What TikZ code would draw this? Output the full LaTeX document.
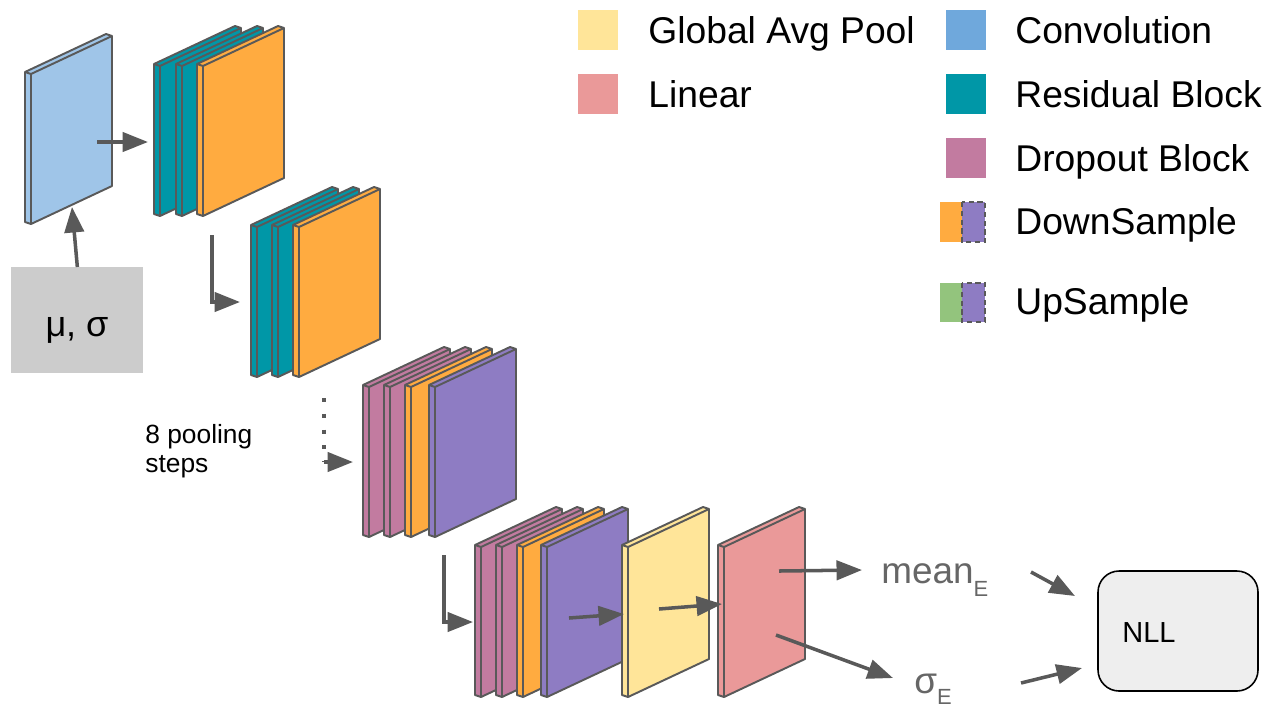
\documentclass[tikz,border=0pt]{standalone}
\usepackage{fontspec}
\setmainfont{Liberation Sans}
\usetikzlibrary{arrows.meta}

\definecolor{edge}{HTML}{595959}
\definecolor{convpanel}{HTML}{9FC5E8}
\definecolor{convkey}{HTML}{6FA8DC}
\definecolor{resid}{HTML}{0097A7}
\definecolor{drop}{HTML}{C27BA0}
\definecolor{down}{HTML}{FFAB40}
\definecolor{pool}{HTML}{8E7CC3}
\definecolor{upc}{HTML}{93C47D}
\definecolor{gap}{HTML}{FFE599}
\definecolor{lin}{HTML}{EA9999}
\definecolor{inbox}{HTML}{CCCCCC}
\definecolor{lossbox}{HTML}{EEEEEE}
\definecolor{outtext}{HTML}{666666}

\tikzset{
  slabline/.style={draw=edge, line width=1.1pt, line join=round},
  arr/.style={draw=edge, line width=2pt, -{Triangle[length=14.5pt, width=11pt]}},
  keytext/.style={anchor=base west, inner sep=0pt, font=\fontsize{21.2}{25}\selectfont},
}

% one feature-map slab: front top-left corner (#1,#2), fill colour #3
\newcommand\slab[3]{%
  \filldraw[slabline, fill=#3]
    (#1-6,#2-2) -- (#1+75,#2-40) -- (#1+81,#2-38) -- (#1+81,#2+112)
    -- (#1,#2+150) -- (#1-6,#2+148) -- cycle;
  \draw[slabline] (#1-6,#2-2) -- (#1,#2) -- (#1+81,#2-38);
  \draw[slabline] (#1,#2) -- (#1,#2+150);
}

\begin{document}
\begin{tikzpicture}[x=0.02cm, y=-0.02cm]
\useasboundingbox (0,0) rectangle (1266,708);

% ---- input statistics ----
\node[fill=inbox, minimum width=132*0.02cm, minimum height=106*0.02cm, inner sep=0pt, anchor=north west] (stats) at (11,267) {};
\node[anchor=base, inner sep=0pt, font=\fontsize{20.5}{24}\selectfont] (statstxt) at (77,336) {μ, σ};

% ---- convolution ----
\slab{31}{74}{convpanel}

% ---- first residual stage ----
\slab{160}{66}{resid}
\slab{182}{66}{resid}
\slab{203}{66}{down}

% ---- second residual stage ----
\slab{257}{227}{resid}
\slab{278}{227}{resid}
\slab{299}{227}{down}

% ---- dropout stage ----
\slab{369}{387}{drop}
\slab{390}{387}{drop}
\slab{411}{387}{down}
\slab{435}{387}{pool}

% ---- last stage and head ----
\slab{481}{547}{drop}
\slab{502}{547}{drop}
\slab{523}{547}{down}
\slab{547}{547}{pool}
\slab{628}{547}{gap}
\slab{724}{547}{lin}

% ---- connector end points ----
\coordinate (convout) at (97,142);
\coordinate (stage1in) at (148,142);
\coordinate (convin) at (72,207);
\coordinate (stage1out) at (212,235);
\coordinate (stage2in) at (240,302);
\coordinate (dotstart) at (324,398);
\coordinate (dotend) at (324,462);
\coordinate (stage3in) at (353,462);
\coordinate (stage3out) at (444,555);
\coordinate (stage4in) at (473,622);
\coordinate (poolout) at (569,618);
\coordinate (gapin) at (624,614);
\coordinate (gapout) at (659,609);
\coordinate (linin) at (722,604);
\coordinate (linmean) at (779,571);
\coordinate (meanin) at (862,570);
\coordinate (linsig) at (776,635);
\coordinate (sigin) at (893,678);
\coordinate (meanout) at (1031,572);
\coordinate (nllmean) at (1075,596);
\coordinate (sigout) at (1021,683);
\coordinate (nllsig) at (1082,668);

% ---- outputs and loss ----
\node[anchor=base west, inner sep=0pt, text=outtext, font=\fontsize{21}{24}\selectfont] (mean) at (881,583)
  {mean\raisebox{-7.9pt}{\fontsize{12.5}{14}\selectfont E}};
\node[anchor=base west, inner sep=0pt, text=outtext, font=\fontsize{21}{24}\selectfont] (sigma) at (914,693)
  {σ\raisebox{-6.6pt}{\fontsize{12.5}{14}\selectfont E}};
\draw[black, line width=0.9pt, fill=lossbox, rounded corners=12pt] (1098,571) rectangle (1258,691);
\node[anchor=base west, inner sep=0pt, font=\fontsize{16.5}{20}\selectfont] (nll) at (1122,642) {NLL};

\node[anchor=base west, inner sep=0pt, font=\fontsize{15}{18}\selectfont] (steps1) at (145,443) {8 pooling};
\node[anchor=base west, inner sep=0pt, font=\fontsize{15}{18}\selectfont] (steps2) at (145,472) {steps};

% ---- connectors ----
\draw[arr] (convout) -- (stage1in);
\draw[arr] (stats.north) -- (convin);
\draw[arr] (stage1out) |- (stage2in);
\draw[draw=edge, line width=2.2pt, dash pattern=on 2.2pt off 6.8pt] (dotstart) -- (dotend);
\draw[arr] (dotend) -- (stage3in);
\draw[arr] (stage3out) |- (stage4in);
\draw[arr] (poolout) -- (gapin);
\draw[arr] (gapout) -- (linin);
\draw[arr] (linmean) -- (meanin);
\draw[arr] (linsig) -- (sigin);
\draw[arr] (meanout) -- (nllmean);
\draw[arr] (sigout) -- (nllsig);

% ---- legend ----
\fill[gap] (578,10) rectangle (618,50);
\node[keytext] (kgap) at (648,43) {Global Avg Pool};
\fill[lin] (578,74) rectangle (618,114);
\node[keytext] (klin) at (648,107) {Linear};
\fill[convkey] (946,10) rectangle (986,50);
\node[keytext] (kconv) at (1015,43) {Convolution};
\fill[resid] (946,74) rectangle (986,114);
\node[keytext] (kres) at (1015,107) {Residual Block};
\fill[drop] (946,138) rectangle (986,178);
\node[keytext] (kdrop) at (1015,171) {Dropout Block};
\fill[down] (940,202) rectangle (962,242);
\filldraw[fill=pool, draw=edge, line width=1.1pt, dash pattern=on 3pt off 2pt] (962,202) rectangle (985,242);
\node[keytext] (kdown) at (1015,234) {DownSample};
\fill[upc] (940,283) rectangle (962,322);
\filldraw[fill=pool, draw=edge, line width=1.1pt, dash pattern=on 3pt off 2pt] (962,283) rectangle (985,322);
\node[keytext] (kup) at (1015,314) {UpSample};
\end{tikzpicture}
\end{document}
